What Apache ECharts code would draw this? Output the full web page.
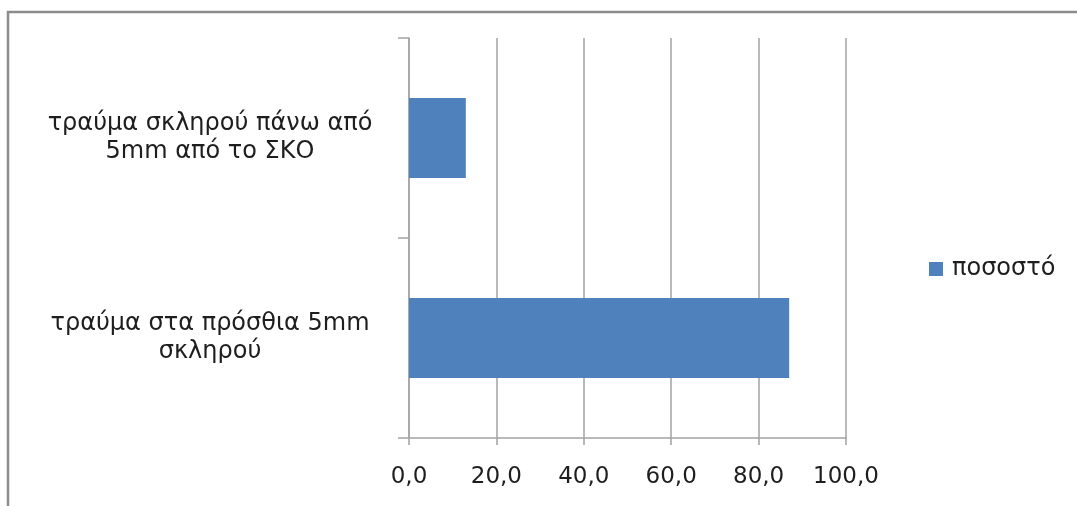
<!DOCTYPE html>
<html>
<head>
<meta charset="utf-8">
<script src="https://cdn.jsdelivr.net/npm/echarts@6/dist/echarts.min.js"></script>
<style>
  html, body { margin: 0; padding: 0; background: #fff; }
  #chart { width: 1077px; height: 506px; }
</style>
</head>
<body>
<div id="chart"></div>
<script>
// Categories listed bottom-to-top, as a category y-axis draws them
const categories = [
  'τραύμα στα πρόσθια 5mm\nσκληρού',
  'τραύμα σκληρού πάνω από\n5mm από το ΣΚΟ'
];
const seriesName = 'ποσοστό';
const percentValues = [87.0, 13.0];
const xTicks = { min: 0, max: 100, interval: 20 };

const FONT = '"DejaVu Sans", "Noto Sans", sans-serif';
const TEXT = '#1e1e1e';
const GRID_LINE = '#a3a3a3';

const chart = echarts.init(document.getElementById('chart'), null, { renderer: 'canvas' });

chart.setOption({
  backgroundColor: '#ffffff',
  animation: false,
  textStyle: { fontFamily: FONT },
  graphic: [{
    type: 'rect',
    shape: { x: 8, y: 12, width: 1100, height: 600 },
    style: { fill: 'none', stroke: '#8c8c8c', lineWidth: 2.5 },
    silent: true,
    z: -1
  }],
  legend: {
    left: 924,
    top: 252,
    itemWidth: 14,
    itemHeight: 14,
    itemGap: 10,
    icon: 'rect',
    textStyle: { fontFamily: FONT, fontSize: 24, color: TEXT, padding: [0, 0, 0, 4] },
    data: [seriesName]
  },
  grid: { left: 409, top: 38, right: 231, bottom: 68, containLabel: false },
  xAxis: {
    type: 'value',
    min: xTicks.min,
    max: xTicks.max,
    interval: xTicks.interval,
    axisLine: { show: true, lineStyle: { color: GRID_LINE, width: 1.5 } },
    axisTick: { show: true, length: 7, lineStyle: { color: GRID_LINE, width: 1.5 } },
    splitLine: { show: true, lineStyle: { color: GRID_LINE, width: 1.5 } },
    axisLabel: {
      margin: 28,
      fontFamily: FONT,
      fontSize: 23,
      color: TEXT,
      formatter: v => v.toFixed(1).replace('.', ',')
    }
  },
  yAxis: {
    type: 'category',
    data: categories,
    axisLine: { show: true, lineStyle: { color: GRID_LINE, width: 1.5 } },
    axisTick: { show: true, length: 11, lineStyle: { color: GRID_LINE, width: 1.5 } },
    axisLabel: {
      margin: 199,
      align: 'center',
      fontFamily: FONT,
      fontSize: 24,
      lineHeight: 28,
      color: TEXT
    }
  },
  series: [{
    name: seriesName,
    type: 'bar',
    data: percentValues,
    barWidth: '40%',
    itemStyle: { color: '#4f81bd' }
  }]
});
</script>
</body>
</html>
